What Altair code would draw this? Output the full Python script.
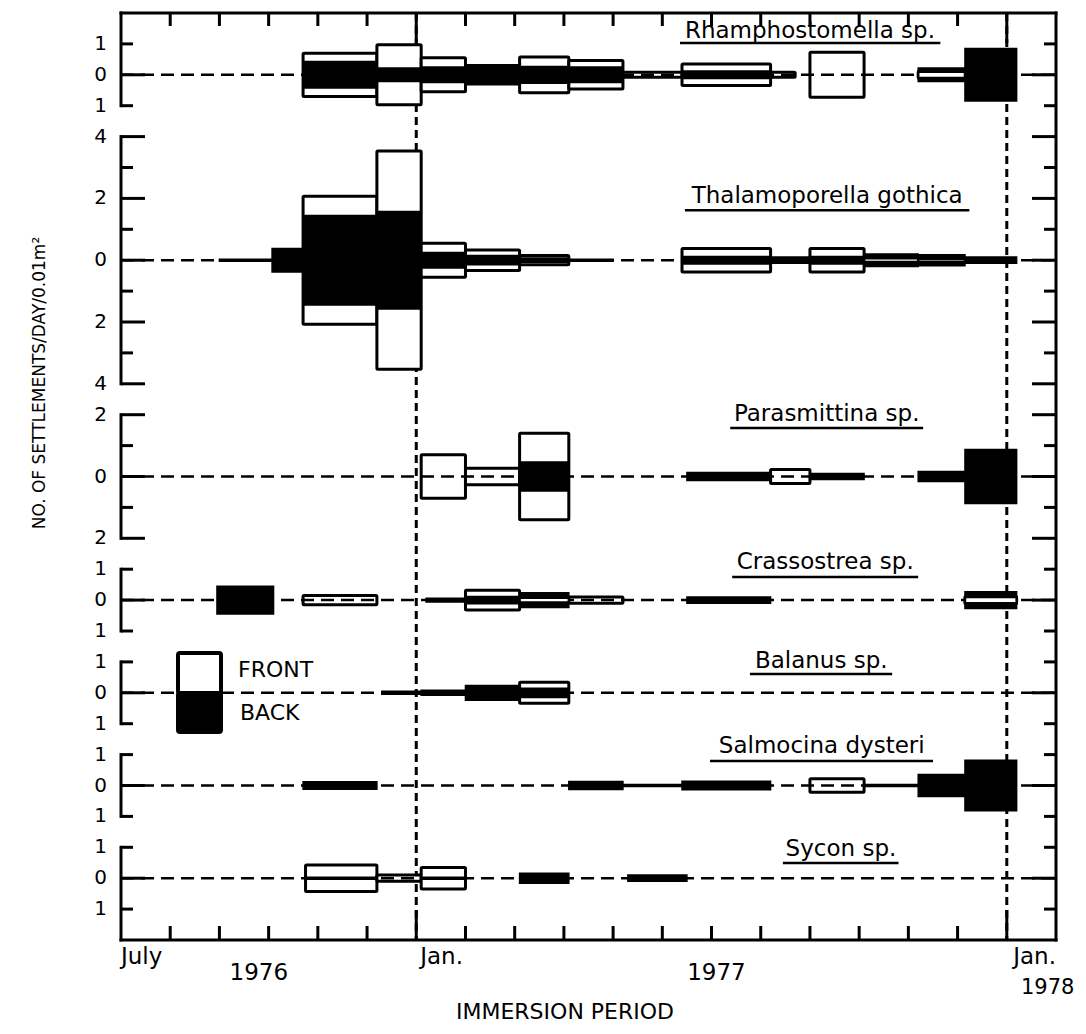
import altair as alt
import pandas as pd

# ---------------- data ----------------
species = ["Rhamphostomella sp.", "Thalamoporella gothica", "Parasmittina sp.",
           "Crassostrea sp.", "Balanus sp.", "Salmocina dysteri", "Sycon sp."]

# time axis: months since 1 July 1976
month_ticks = list(range(1, 19))
jan_months = [6, 18]
xlab_text = ["July", "Jan.", "Jan."]
xlab_month = [0.0, 6.08, 18.13]
year_text = ["1976", "1977"]
year_month = [2.8, 12.1]
year2_text = ["1978"]
year2_month = [18.83]

# Rhamphostomella sp.
rham_start = [3.7, 5.2, 6.1, 7.0, 8.1, 9.1, 10.2, 11.4, 13.2, 14.0, 16.2, 17.15]
rham_end   = [5.2, 6.1, 7.0, 8.1, 9.1, 10.2, 11.4, 13.2, 13.7, 15.1, 17.15, 18.2]
rham_front = [0.70, 0.97, 0.55, 0.30, 0.58, 0.46, 0.08, 0.35, 0.08, 0.73, 0.10, 0.0]
rham_back  = [0.43, 0.22, 0.25, 0.25, 0.27, 0.25, 0.0, 0.12, 0.0, 0.0, 0.22, 0.85]

# Thalamoporella gothica
thal_start = [2.0, 3.07, 3.7, 5.2, 6.1, 7.0, 8.1, 9.1, 11.4, 13.2, 14.0, 15.1, 16.2, 17.15]
thal_end   = [3.07, 3.7, 5.2, 6.1, 7.0, 8.1, 9.1, 10.0, 13.2, 14.0, 15.1, 16.2, 17.15, 18.2]
thal_front = [0.0, 0.0, 2.07, 3.53, 0.55, 0.33, 0.15, 0.0, 0.38, 0.0, 0.38, 0.06, 0.05, 0.0]
thal_back  = [0.03, 0.38, 1.45, 1.58, 0.25, 0.15, 0.07, 0.03, 0.12, 0.10, 0.12, 0.20, 0.18, 0.10]

# Parasmittina sp.
para_start = [6.1, 7.0, 8.1, 11.5, 13.2, 14.0, 16.2, 17.15]
para_end   = [7.0, 8.1, 9.1, 13.2, 14.0, 15.1, 17.15, 18.2]
para_front = [0.70, 0.27, 1.40, 0.0, 0.23, 0.0, 0.0, 0.0]
para_back  = [0.0, 0.0, 0.47, 0.13, 0.0, 0.10, 0.16, 0.87]

# Crassostrea sp.
cras_start = [1.95, 3.7, 6.2, 7.0, 8.1, 9.1, 11.5, 17.15]
cras_end   = [3.1, 5.2, 7.0, 8.1, 9.1, 10.2, 13.2, 18.2]
cras_front = [0.0, 0.15, 0.0, 0.32, 0.08, 0.10, 0.0, 0.10]
cras_back  = [0.45, 0.0, 0.06, 0.12, 0.24, 0.0, 0.10, 0.27]

# Balanus sp.
bala_start = [5.3, 6.1, 7.0, 8.1]
bala_end   = [6.1, 7.0, 8.1, 9.1]
bala_front = [0.0, 0.0, 0.0, 0.34]
bala_back  = [0.05, 0.08, 0.24, 0.15]

# Salmocina dysteri
salm_start = [3.7, 9.1, 10.2, 11.4, 14.0, 15.1, 16.2, 17.15]
salm_end   = [5.2, 10.2, 11.4, 13.2, 15.1, 16.2, 17.15, 18.2]
salm_front = [0.0, 0.0, 0.0, 0.0, 0.22, 0.0, 0.0, 0.0]
salm_back  = [0.12, 0.13, 0.03, 0.14, 0.0, 0.03, 0.36, 0.82]

# Sycon sp.
syco_start = [3.75, 5.2, 6.1, 8.1, 10.3]
syco_end   = [5.2, 6.1, 7.0, 9.1, 11.5]
syco_front = [0.43, 0.10, 0.35, 0.0, 0.0]
syco_back  = [0.03, 0.0, 0.03, 0.16, 0.10]

# ---------------- layout (stacked panel units, 1 unit = 1 settlement) ----------------
bases = [2, 8, 15, 19, 22, 25, 28]
bracket_top = [0, 4, 13, 18, 21, 24, 27]
bracket_bottom = [3, 12, 17, 20, 23, 26, 30]
scale_extent = [1, 4, 2, 1, 1, 1, 1]
label_step = [1, 2, 2, 1, 1, 1, 1]

label_x = [14.0, 14.35, 14.34, 14.31, 14.23, 14.24, 14.63]
label_y = [0.80, 6.14, 13.19, 17.98, 21.19, 23.94, 27.27]
uline_x0 = [11.36, 11.46, 12.38, 12.42, 12.78, 11.97, 13.45]
uline_x1 = [16.65, 17.24, 16.30, 16.20, 15.67, 16.50, 15.80]
uline_y = [0.97, 6.38, 13.43, 18.25, 21.39, 24.21, 27.51]

W, H = 935, 927
FONT = "DejaVu Sans"

# ---------------- tables ----------------
series = [(rham_start, rham_end, rham_front, rham_back),
          (thal_start, thal_end, thal_front, thal_back),
          (para_start, para_end, para_front, para_back),
          (cras_start, cras_end, cras_front, cras_back),
          (bala_start, bala_end, bala_front, bala_back),
          (salm_start, salm_end, salm_front, salm_back),
          (syco_start, syco_end, syco_front, syco_back)]

rows = []
for sp, base, (s, e, f, b) in zip(species, bases, series):
    for i in range(len(s)):
        rows.append(dict(species=sp, start=s[i], end=e[i], front=f[i], back=b[i],
                         f1=base - f[i], f2=base + f[i], b1=base - b[i], b2=base + b[i]))
bars = pd.DataFrame(rows)

panels = pd.DataFrame(dict(species=species, base=bases, top=bracket_top, bottom=bracket_bottom,
                           lx=label_x, ly=label_y, u0=uline_x0, u1=uline_x1, uy=uline_y))

tick_rows = []
for base, ext, step in zip(bases, scale_extent, label_step):
    for v in range(-ext, ext + 1):
        labeled = (v % step == 0)
        is_long = (v == 0) or (step == 2 and v % 2 == 0)
        tick_rows.append(dict(unit=base + v, label=str(abs(v)) if labeled else "",
                              long=1 if is_long else 0))
ticks = pd.DataFrame(tick_rows)

mticks = pd.DataFrame(dict(m=month_ticks, long=[1 if m in jan_months else 0 for m in month_ticks]))
jans = pd.DataFrame(dict(m=jan_months))
xlabs = pd.DataFrame(dict(t=xlab_text, m=xlab_month))
ylabs1 = pd.DataFrame(dict(t=year_text, m=year_month))
ylabs2 = pd.DataFrame(dict(t=year2_text, m=year2_month))
one = pd.DataFrame(dict(k=[0]))

xs = alt.Scale(domain=[0, 19], nice=False, zero=False)
ys = alt.Scale(domain=[0, 30], nice=False, zero=False, reverse=True)


def X(f):
    return alt.X(f, type="quantitative", scale=xs, axis=None)


def Y(f):
    return alt.Y(f, type="quantitative", scale=ys, axis=None)


# ---------------- layers ----------------
jan_lines = alt.Chart(jans).mark_rule(color="black", strokeWidth=3, strokeDash=[8, 5]).encode(
    x=X("m"), y=alt.value(0), y2=alt.value(H))

front = alt.Chart(bars).transform_filter("datum.front > 0").mark_rect(
    fill="white", stroke="black", strokeWidth=3, cornerRadius=1).encode(
    x=X("start"), x2="end", y=Y("f1"), y2="f2")

baseline = alt.Chart(panels).mark_rule(color="black", strokeWidth=2.5, strokeDash=[13, 7]).encode(
    y=Y("base"), x=alt.value(0), x2=alt.value(W))

back = alt.Chart(bars).transform_filter("datum.back > 0").mark_rect(
    fill="black", stroke="black", strokeWidth=1.5).encode(
    x=X("start"), x2="end", y=Y("b1"), y2="b2")

front_over = alt.Chart(bars).transform_filter("datum.front > 0 && datum.front < datum.back").mark_rect(
    fill="white", stroke="black", strokeWidth=2.5).encode(
    x=X("start"), x2="end", y=Y("f1"), y2="f2")

# frame
frame_top = alt.Chart(one).mark_rule(color="black", strokeWidth=3, strokeCap="square").encode(
    x=alt.value(0), x2=alt.value(W), y=alt.value(0))
frame_bottom = alt.Chart(one).mark_rule(color="black", strokeWidth=3, strokeCap="square").encode(
    x=alt.value(0), x2=alt.value(W), y=alt.value(H))
frame_right = alt.Chart(one).mark_rule(color="black", strokeWidth=3, strokeCap="square").encode(
    x=alt.value(W), y=alt.value(0), y2=alt.value(H))
brackets = alt.Chart(panels).mark_rule(color="black", strokeWidth=3, strokeCap="square").encode(
    x=alt.value(0), y=Y("top"), y2="bottom")

left_long = alt.Chart(ticks).transform_filter("datum.long == 1").mark_rule(color="black", strokeWidth=3).encode(
    y=Y("unit"), x=alt.value(0), x2=alt.value(24))
left_short = alt.Chart(ticks).transform_filter("datum.long == 0").mark_rule(color="black", strokeWidth=3).encode(
    y=Y("unit"), x=alt.value(0), x2=alt.value(12))
right_long = alt.Chart(ticks).transform_filter("datum.long == 1").mark_rule(color="black", strokeWidth=3).encode(
    y=Y("unit"), x=alt.value(W), x2=alt.value(W - 24))
right_short = alt.Chart(ticks).transform_filter("datum.long == 0").mark_rule(color="black", strokeWidth=3).encode(
    y=Y("unit"), x=alt.value(W), x2=alt.value(W - 12))

top_short = alt.Chart(mticks).transform_filter("datum.long == 0").mark_rule(color="black", strokeWidth=3).encode(
    x=X("m"), y=alt.value(0), y2=alt.value(13))
top_long = alt.Chart(mticks).transform_filter("datum.long == 1").mark_rule(color="black", strokeWidth=3).encode(
    x=X("m"), y=alt.value(0), y2=alt.value(30))
bot_short = alt.Chart(mticks).transform_filter("datum.long == 0").mark_rule(color="black", strokeWidth=3).encode(
    x=X("m"), y=alt.value(H), y2=alt.value(H - 14))
bot_long = alt.Chart(mticks).transform_filter("datum.long == 1").mark_rule(color="black", strokeWidth=3).encode(
    x=X("m"), y=alt.value(H), y2=alt.value(H - 30))

# texts
ytick_text = alt.Chart(ticks).transform_filter("datum.label != ''").mark_text(
    align="right", baseline="middle", font=FONT, fontSize=20, color="black").encode(
    y=Y("unit"), x=alt.value(-14), text="label:N")

sp_text = alt.Chart(panels).mark_text(
    align="center", baseline="alphabetic", font=FONT, fontSize=23, color="black").encode(
    x=X("lx"), y=Y("ly"), text="species:N")
sp_uline = alt.Chart(panels).mark_rule(color="black", strokeWidth=2.5).encode(
    x=X("u0"), x2="u1", y=Y("uy"))

xlab = alt.Chart(xlabs).mark_text(align="left", baseline="middle", font=FONT, fontSize=23,
                                   color="black").encode(x=X("m"), y=alt.value(944), text="t:N")
ylab1 = alt.Chart(ylabs1).mark_text(align="center", baseline="middle", font=FONT, fontSize=23,
                                     color="black").encode(x=X("m"), y=alt.value(960), text="t:N")
ylab2 = alt.Chart(ylabs2).mark_text(align="center", baseline="middle", font=FONT, fontSize=21,
                                     color="black").encode(x=X("m"), y=alt.value(975), text="t:N")

x_title = alt.Chart(one).mark_text(align="center", baseline="middle", font=FONT, fontSize=22,
                                    color="black", text="IMMERSION PERIOD").encode(
    x=alt.value(444), y=alt.value(999))
y_title = alt.Chart(one).mark_text(align="center", baseline="middle", font=FONT, fontSize=17,
                                    color="black", angle=270,
                                    text="NO. OF SETTLEMENTS/DAY/0.01m²").encode(
    x=alt.value(-81), y=alt.value(370))

# legend
leg_front = alt.Chart(one).mark_rect(fill="white", stroke="black", strokeWidth=4, cornerRadius=2).encode(
    x=alt.value(57), x2=alt.value(100), y=alt.value(640), y2=alt.value(680))
leg_back = alt.Chart(one).mark_rect(fill="black", stroke="black", strokeWidth=4, cornerRadius=2).encode(
    x=alt.value(57), x2=alt.value(100), y=alt.value(680), y2=alt.value(719))
leg_t1 = alt.Chart(one).mark_text(align="left", baseline="middle", font=FONT, fontSize=22,
                                   color="black", text="FRONT").encode(x=alt.value(117), y=alt.value(657))
leg_t2 = alt.Chart(one).mark_text(align="left", baseline="middle", font=FONT, fontSize=22,
                                   color="black", text="BACK").encode(x=alt.value(119), y=alt.value(700))

chart = alt.layer(
    jan_lines, front, baseline, back, front_over,
    frame_top, frame_bottom, frame_right, brackets,
    left_long, left_short, right_long, right_short,
    top_short, top_long, bot_short, bot_long,
    ytick_text, sp_text, sp_uline, xlab, ylab1, ylab2, x_title, y_title,
    leg_front, leg_back, leg_t1, leg_t2,
).properties(
    width=W, height=H,
    autosize=alt.AutoSizeParams(type="none"),
    padding={"left": 113, "top": 5, "right": 22, "bottom": 86},
    background="white",
).configure_view(strokeWidth=0)

chart.save("out.html", embed_options={"renderer": "svg", "actions": False})
